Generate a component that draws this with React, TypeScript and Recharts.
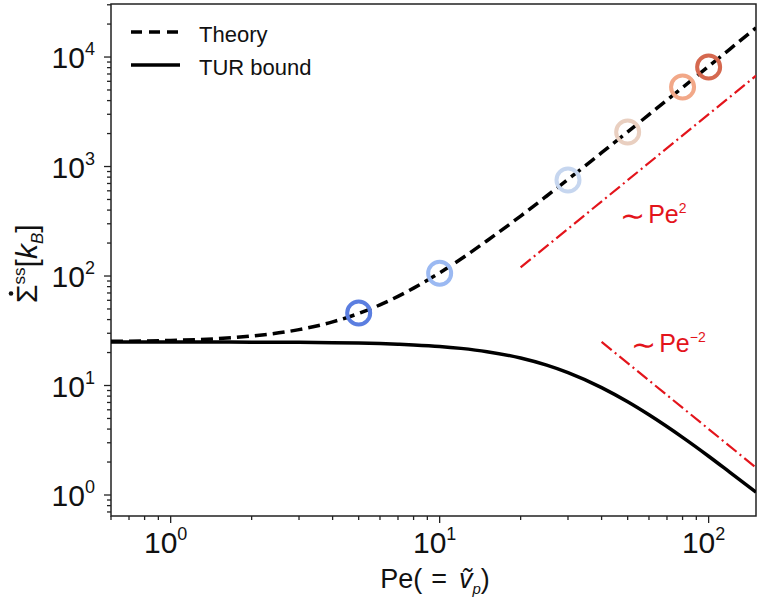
import React from 'react';
import {
  ComposedChart,
  Line,
  Scatter,
  XAxis,
  YAxis,
  ReferenceArea,
  Customized,
  Cell,
} from 'recharts';

// ---- data ----
const peGrid = [0.6, 0.8, 1, 1.5, 2, 3, 4, 5, 6, 7, 8, 10, 12, 15, 20, 25, 30, 40, 50, 60, 80, 100, 120, 150];
const theoryVals = [25.3, 25.5, 25.8, 26.8, 28.3, 32.4, 38.1, 45.5, 54.5, 65.2, 77.5, 107, 143, 210, 353, 538, 763, 1337, 2075, 2977, 5273, 8225, 11833, 18475];
const turVals = [24.99, 24.98, 24.97, 24.94, 24.9, 24.78, 24.61, 24.39, 24.13, 23.82, 23.48, 22.74, 21.83, 20.38, 17.82, 15.34, 13.11, 9.57, 7.1, 5.4, 3.36, 2.26, 1.61, 1.06];

const markerPe = [5, 10, 30, 50, 80, 100];
const markerVals = [46, 106, 753, 2065, 5320, 8100];
const markerColors = ['#5b7ee0', '#9bb9f2', '#c6d6ef', '#e9cfc0', '#f2a888', '#d5684f'];

const pe2X = [20, 150];
const pe2Y = [120, 6750];
const peM2X = [40, 150];
const peM2Y = [25, 1.78];

const xMajor = [1, 10, 100];
const xMajorExp = ['0', '1', '2'];
const xMinor = [0.6, 0.7, 0.8, 0.9, 2, 3, 4, 5, 6, 7, 8, 9, 20, 30, 40, 50, 60, 70, 80, 90];
const yMajor = [1, 10, 100, 1000, 10000];
const yMajorExp = ['0', '1', '2', '3', '4'];
const yMinor = [0.7, 0.8, 0.9, 2, 3, 4, 5, 6, 7, 8, 9, 20, 30, 40, 50, 60, 70, 80, 90, 200, 300, 400, 500, 600, 700, 800, 900, 2000, 3000, 4000, 5000, 6000, 7000, 8000, 9000, 20000, 30000];

const xDomain = [0.6, 150];
const yDomain = [0.643, 30500];

const legendItems = ['Theory', 'TUR bound'];

// ---- build series ----
const theoryData = peGrid.map((x, i) => ({ x, y: theoryVals[i] }));
const turData = peGrid.map((x, i) => ({ x, y: turVals[i] }));
const markerData = markerPe.map((x, i) => ({ x, y: markerVals[i] }));
const pe2Data = pe2X.map((x, i) => ({ x, y: pe2Y[i] }));
const peM2Data = peM2X.map((x, i) => ({ x, y: peM2Y[i] }));

const FONT = '"Liberation Sans", Arial, Helvetica, sans-serif';
const AXIS = '#222';
const RED = '#e3141b';

const XTick = (props: any) => {
  const { x, y, payload } = props;
  const v = payload.value;
  const idx = xMajor.indexOf(v);
  const major = idx >= 0;
  return (
    <g>
      <line x1={x} x2={x} y1={y} y2={y + (major ? 7 : 4)} stroke={AXIS} strokeWidth={1.3} />
      {major && (
        <text x={x - 5} y={y + 37} textAnchor="middle" fontSize={30} fill="#111" fontFamily={FONT}>
          10
          <tspan dy={-13} fontSize={18}>
            {xMajorExp[idx]}
          </tspan>
        </text>
      )}
    </g>
  );
};

const YTick = (props: any) => {
  const { x, y, payload } = props;
  const v = payload.value;
  const idx = yMajor.indexOf(v);
  const major = idx >= 0;
  return (
    <g>
      <line x1={x - (major ? 7 : 4)} x2={x} y1={y} y2={y} stroke={AXIS} strokeWidth={1.3} />
      {major && (
        <text x={x - 16} y={y + 11} textAnchor="end" fontSize={30} fill="#111" fontFamily={FONT}>
          10
          <tspan dy={-13} fontSize={18}>
            {yMajorExp[idx]}
          </tspan>
        </text>
      )}
    </g>
  );
};

const Ring = (props: any) => {
  const { cx, cy, fill } = props;
  if (cx == null || cy == null) return null;
  return <circle cx={cx} cy={cy} r={11.5} fill="none" stroke={fill} strokeWidth={4} />;
};

const Overlay = () => (
  <g fontFamily={FONT}>
    {/* legend */}
    <line x1={131} x2={180} y1={32} y2={32} stroke="#000" strokeWidth={3.5} strokeDasharray="11 7" />
    <text x={199} y={42} fontSize={22} fill="#111">
      {legendItems[0]}
    </text>
    <line x1={131} x2={180} y1={65} y2={65} stroke="#000" strokeWidth={3.5} />
    <text x={199} y={75} fontSize={22} fill="#111">
      {legendItems[1]}
    </text>

    {/* slope annotations */}
    <text x={620} y={226} fontSize={25} fill={RED}>
      <tspan fontFamily='"DejaVu Sans", sans-serif' fontSize={30}>∼</tspan>
      <tspan dx={3} dy={-3}>Pe</tspan>
      <tspan dy={-10} fontSize={14}>
        2
      </tspan>
    </text>
    <text x={631} y={355} fontSize={25} fill={RED}>
      <tspan fontFamily='"DejaVu Sans", sans-serif' fontSize={30}>∼</tspan>
      <tspan dx={3} dy={-3}>Pe</tspan>
      <tspan dy={-10} fontSize={14}>
        −2
      </tspan>
    </text>

    {/* y label */}
    <g transform="translate(37,260) rotate(-90)">
      <text x={-43} y={0} textAnchor="start" fontSize={30} fill="#111">
        Σ
        <tspan fontSize={17} dy={-12}>
          ss
        </tspan>
        <tspan dy={12}>[</tspan>
        <tspan fontStyle="italic">k</tspan>
        <tspan fontStyle="italic" fontSize={17} dy={6}>
          B
        </tspan>
        <tspan dy={-6}>]</tspan>
      </text>
      <circle cx={-33.5} cy={-26} r={2.3} fill="#111" />
    </g>

    {/* x label */}
    <text x={435} y={588} textAnchor="middle" fontSize={27} fill="#111">
      Pe(
      <tspan dx={9}>=</tspan>
      <tspan dx={12} fontStyle="italic">
        ṽ
      </tspan>
      <tspan fontStyle="italic" fontSize={15} dy={6}>
        p
      </tspan>
      <tspan dy={-6}>)</tspan>
    </text>
  </g>
);

export default function App() {
  return (
    <div style={{ position: 'absolute', left: 0, top: 0, width: 760, height: 604, background: '#fff' }}>
      <ComposedChart width={760} height={604} margin={{ top: 4, right: 4, left: 0, bottom: 0 }}>
        <XAxis
          dataKey="x"
          type="number"
          scale="log"
          domain={xDomain}
          allowDataOverflow
          ticks={[...xMinor, ...xMajor].sort((a, b) => a - b)}
          interval={0}
          tick={<XTick />}
          tickLine={false}
          tickSize={0}
          tickMargin={0}
          axisLine={false}
          height={88}
        />
        <YAxis
          dataKey="y"
          type="number"
          scale="log"
          domain={yDomain}
          allowDataOverflow
          ticks={[...yMinor, ...yMajor].sort((a, b) => a - b)}
          interval={0}
          tick={<YTick />}
          tickLine={false}
          tickSize={0}
          tickMargin={0}
          axisLine={false}
          width={111}
        />
        <ReferenceArea
          x1={xDomain[0]}
          x2={xDomain[1]}
          y1={yDomain[0]}
          y2={yDomain[1]}
          fill="none"
          fillOpacity={0}
          stroke={AXIS}
          strokeWidth={1.5}
          ifOverflow="visible"
        />
        <Scatter data={markerData} dataKey="y" shape={<Ring />} isAnimationActive={false}>
          {markerData.map((_, i) => (
            <Cell key={i} fill={markerColors[i]} />
          ))}
        </Scatter>
        <Line
          data={pe2Data}
          dataKey="y"
          type="linear"
          stroke={RED}
          strokeWidth={2.2}
          strokeDasharray="13 4 2 4"
          dot={false}
          activeDot={false}
          isAnimationActive={false}
        />
        <Line
          data={peM2Data}
          dataKey="y"
          type="linear"
          stroke={RED}
          strokeWidth={2.2}
          strokeDasharray="13 4 2 4"
          dot={false}
          activeDot={false}
          isAnimationActive={false}
        />
        <Line
          data={turData}
          dataKey="y"
          type="monotone"
          stroke="#000"
          strokeWidth={3.5}
          dot={false}
          activeDot={false}
          isAnimationActive={false}
        />
        <Line
          data={theoryData}
          dataKey="y"
          type="monotone"
          stroke="#000"
          strokeWidth={3.5}
          strokeDasharray="12 6"
          dot={false}
          activeDot={false}
          isAnimationActive={false}
        />
        <Customized component={Overlay} />
      </ComposedChart>
    </div>
  );
}
